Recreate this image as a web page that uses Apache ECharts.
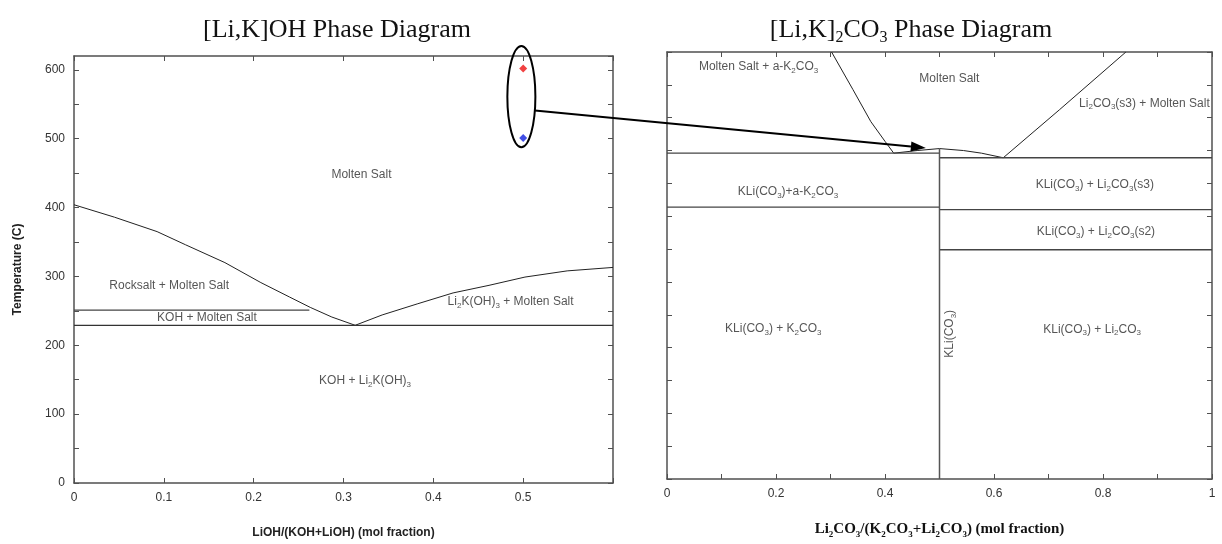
<!DOCTYPE html>
<html><head><meta charset="utf-8">
<script src="https://cdn.jsdelivr.net/npm/echarts@6/dist/echarts.min.js"></script>
<style>html,body{margin:0;padding:0;background:#fff}#c{width:1222px;height:544px}</style>
</head><body><div id="c"></div>
<script>
// ---------- tick labels ----------
const leftXTickLabels = ['0','0.1','0.2','0.3','0.4','0.5'];
const leftYTickLabels = ['0','100','200','300','400','500','600'];
const rightXTickLabels = ['0','0.2','0.4','0.6','0.8','1'];

// ---------- [Li,K]OH diagram (x = LiOH mol fraction, y = T in C) ----------
const lohLiquidusLeft = [[0,404],[0.045,386],[0.0925,365],[0.124,346],[0.168,320],[0.208,291],[0.240,270],[0.263,255],[0.287,241],[0.313,229]];
const lohLiquidusRight = [[0.313,229],[0.343,244],[0.382,260],[0.422,276],[0.462,287],[0.502,299],[0.549,308],[0.6,313]];
const lohKohTransition = [[0,251],[0.262,251]];
const lohEutectic = [[0,229],[0.6,229]];
const lohRedPoint = [[0.5,602]];
const lohBluePoint = [[0.5,501]];
const lohLabelNames = ['Molten Salt','Rocksalt + Molten Salt','KOH + Molten Salt','Li{s|2}K(OH){s|3} + Molten Salt','KOH + Li{s|2}K(OH){s|3}'];
const lohLabelPos = [[0.320,447],[0.106,287],[0.148,240],[0.486,263],[0.324,148]];

// ---------- [Li,K]2CO3 diagram ----------
const lcoLiquidusLeft = [[0.302,650],[0.341,593],[0.374,544],[0.400,514],[0.416,496]];
const lcoDome = [[0.416,496],[0.459,500],[0.5,503],[0.544,500],[0.577,496],[0.617,489]];
const lcoLiquidusRight = [[0.617,489],[0.72,562],[0.842,650]];
const lcoEutecticLeft = [[0,496],[0.5,496]];
const lcoTransLeft = [[0,414],[0.5,414]];
const lcoEutecticRight = [[0.5,489],[1,489]];
const lcoS3Line = [[0.5,410],[1,410]];
const lcoS2Line = [[0.5,349],[1,349]];
const lcoCompound = [[0.5,0],[0.5,503]];
const lcoLabelNames = ['Molten Salt + a-K{s|2}CO{s|3}','Molten Salt','Li{s|2}CO{s|3}(s3) + Molten Salt','KLi(CO{s|3})+a-K{s|2}CO{s|3}','KLi(CO{s|3}) + Li{s|2}CO{s|3}(s3)','KLi(CO{s|3}) + Li{s|2}CO{s|3}(s2)','KLi(CO{s|3}) + K{s|2}CO{s|3}','KLi(CO{s|3}) + Li{s|2}CO{s|3}','KLi(CO{s|3})'];
const lcoLabelPos = [[0.168,627],[0.518,610],[0.876,572],[0.222,437],[0.785,448],[0.787,376],[0.195,229],[0.78,228],[0.518,221]];
const lcoLabelRotate = [0,0,0,0,0,0,0,0,90];

// ---------- annotation (ellipse around points, arrow to other diagram) ----------
const ellipseData = {cx:0.498, cy:561, rx:0.0156, ry:73.5};
const arrowFrom = [0.513, 541];   // in [Li,K]OH data coords
const arrowTo = [0.475, 504];     // in [Li,K]2CO3 data coords

// ---------- styles ----------
const SANS = 'Liberation Sans, Arial, sans-serif';
const SERIF = 'Liberation Serif, Times New Roman, serif';
const AX = '#505050';
const LBL = '#2a2a2a';
const subRich = { s: { fontSize: 8, fontFamily: SANS, color: LBL, lineHeight: 16, verticalAlign: 'bottom' } };

function axisBase(extra) {
  return Object.assign({
    type: 'value',
    axisLine: { show: true, onZero: false, lineStyle: { color: AX, width: 1.5 } },
    axisTick: { show: true, inside: true, length: 5, lineStyle: { color: AX, width: 1 } },
    splitLine: { show: false },
  }, extra);
}
function labelFrom(arr, step) {
  return function (v) { const i = Math.round(v / step); return (Math.abs(v - i * step) < 1e-6 && arr[i] !== undefined) ? arr[i] : ''; };
}
const tickLbl = { color: '#333', fontSize: 12, fontFamily: SANS };

function lineSeries(data, xi, yi, color, width) {
  return { type: 'line', data: data, xAxisIndex: xi, yAxisIndex: yi, showSymbol: false, symbol: 'none',
    lineStyle: { color: color, width: width }, silent: true, z: 3 };
}
function labelSeries(names, pos, xi, yi, rot) {
  return { type: 'scatter', xAxisIndex: xi, yAxisIndex: yi, symbolSize: 1, itemStyle: { color: 'transparent' }, silent: true, z: 4,
    data: names.map((n, i) => ({ name: n, value: pos[i], label: { rotate: rot ? rot[i] : 0 } })),
    label: { show: true, position: 'inside', formatter: p => p.name, color: LBL, fontSize: 12, fontFamily: SANS, lineHeight: 16, rich: subRich } };
}

const chart = echarts.init(document.getElementById('c'), null, { renderer: 'canvas' });
const option = {
  animation: false,
  backgroundColor: '#fff',
  grid: [
    { left: 74, top: 56, width: 539, height: 436 },
    { left: 667, top: 52, width: 545, height: 435 }
  ],
  xAxis: [
    axisBase({ gridIndex: 0, position: 'bottom', min: 0, max: 0.6, interval: 0.1,
      axisLabel: Object.assign({ formatter: labelFrom(leftXTickLabels, 0.1), margin: 9 }, tickLbl),
      name: 'LiOH/(KOH+LiOH) (mol fraction)', nameLocation: 'middle', nameGap: 44,
      nameTextStyle: { fontWeight: 'bold', fontSize: 12, fontFamily: SANS, color: '#222' } }),
    axisBase({ gridIndex: 0, position: 'top', min: 0, max: 0.6, interval: 0.1, axisLabel: { show: false } }),
    axisBase({ gridIndex: 1, position: 'bottom', min: 0, max: 1, interval: 0.1,
      axisLabel: Object.assign({ formatter: labelFrom(rightXTickLabels, 0.2), margin: 9 }, tickLbl),
      name: 'Li{s|2}CO{s|3}/(K{s|2}CO{s|3}+Li{s|2}CO{s|3}) (mol fraction)', nameLocation: 'middle', nameGap: 40,
      nameTextStyle: { fontWeight: 'bold', fontSize: 15, fontFamily: SERIF, color: '#111', lineHeight: 20,
        rich: { s: { fontWeight: 'bold', fontSize: 9, fontFamily: SERIF, color: '#111', lineHeight: 20, verticalAlign: 'bottom' } } } }),
    axisBase({ gridIndex: 1, position: 'top', min: 0, max: 1, interval: 0.1, axisLabel: { show: false } })
  ],
  yAxis: [
    axisBase({ gridIndex: 0, position: 'left', min: 0, max: 620, interval: 50,
      axisLabel: Object.assign({ formatter: labelFrom(leftYTickLabels, 100), margin: 9, showMaxLabel: false }, tickLbl),
      name: 'Temperature (C)', nameLocation: 'middle', nameGap: 50,
      nameTextStyle: { fontWeight: 'bold', fontSize: 12, fontFamily: SANS, color: '#222' } }),
    axisBase({ gridIndex: 0, position: 'right', min: 0, max: 620, interval: 50, axisLabel: { show: false } }),
    axisBase({ gridIndex: 1, position: 'left', min: 0, max: 650, interval: 50, axisLabel: { show: false } }),
    axisBase({ gridIndex: 1, position: 'right', min: 0, max: 650, interval: 50, axisLabel: { show: false } })
  ],
  series: [
    lineSeries(lohLiquidusLeft, 0, 0, '#222', 1),
    lineSeries(lohLiquidusRight, 0, 0, '#222', 1),
    lineSeries(lohKohTransition, 0, 0, '#444', 1.3),
    lineSeries(lohEutectic, 0, 0, '#333', 1.3),
    { type: 'scatter', xAxisIndex: 0, yAxisIndex: 0, data: lohRedPoint, symbol: 'diamond', symbolSize: 8, itemStyle: { color: '#ee1111' }, z: 5 },
    { type: 'scatter', xAxisIndex: 0, yAxisIndex: 0, data: lohBluePoint, symbol: 'diamond', symbolSize: 8, itemStyle: { color: '#1122dd' }, z: 5 },
    labelSeries(lohLabelNames, lohLabelPos, 0, 0),
    lineSeries(lcoLiquidusLeft, 2, 2, '#222', 1),
    lineSeries(lcoDome, 2, 2, '#222', 1),
    lineSeries(lcoLiquidusRight, 2, 2, '#222', 1),
    lineSeries(lcoEutecticLeft, 2, 2, '#444', 1.3),
    lineSeries(lcoTransLeft, 2, 2, '#444', 1.3),
    lineSeries(lcoEutecticRight, 2, 2, '#444', 1.3),
    lineSeries(lcoS3Line, 2, 2, '#444', 1.3),
    lineSeries(lcoS2Line, 2, 2, '#444', 1.3),
    lineSeries(lcoCompound, 2, 2, '#555', 1.5),
    labelSeries(lcoLabelNames, lcoLabelPos, 2, 2, lcoLabelRotate)
  ]
};
chart.setOption(option);

// titles + annotation graphics
const c0 = chart.convertToPixel({ gridIndex: 0 }, [ellipseData.cx, ellipseData.cy]);
const e1 = chart.convertToPixel({ gridIndex: 0 }, [ellipseData.cx + ellipseData.rx, ellipseData.cy + ellipseData.ry]);
const a0 = chart.convertToPixel({ gridIndex: 0 }, arrowFrom);
const a1 = chart.convertToPixel({ gridIndex: 1 }, arrowTo);
const dx = a1[0] - a0[0], dy = a1[1] - a0[1], L = Math.hypot(dx, dy), ux = dx / L, uy = dy / L;
const hl = 15, hw = 5;
const base = [a1[0] - ux * hl, a1[1] - uy * hl];
chart.setOption({
  graphic: [
    { type: 'text', x: 337, y: 30, style: { text: '[Li,K]OH Phase Diagram', fontFamily: SERIF, fontSize: 26, fill: '#111', textAlign: 'center', textVerticalAlign: 'middle' } },
    { type: 'text', x: 911, y: 30, style: { text: '[Li,K]{s|2}CO{s|3} Phase Diagram', fontFamily: SERIF, fontSize: 26, fill: '#111', textAlign: 'center', textVerticalAlign: 'middle', lineHeight: 32,
      rich: { s: { fontFamily: SERIF, fontSize: 16, fill: '#111', lineHeight: 32, verticalAlign: 'bottom' } } } },
    { type: 'ellipse', z: 10, shape: { cx: c0[0], cy: c0[1], rx: Math.abs(e1[0] - c0[0]), ry: Math.abs(c0[1] - e1[1]) }, style: { fill: 'none', stroke: '#000', lineWidth: 2 } },
    { type: 'line', z: 10, shape: { x1: a0[0], y1: a0[1], x2: base[0], y2: base[1] }, style: { stroke: '#000', lineWidth: 2 } },
    { type: 'polygon', z: 10, shape: { points: [a1, [base[0] - uy * hw, base[1] + ux * hw], [base[0] + uy * hw, base[1] - ux * hw]] }, style: { fill: '#000' } }
  ]
});
</script></body></html>
